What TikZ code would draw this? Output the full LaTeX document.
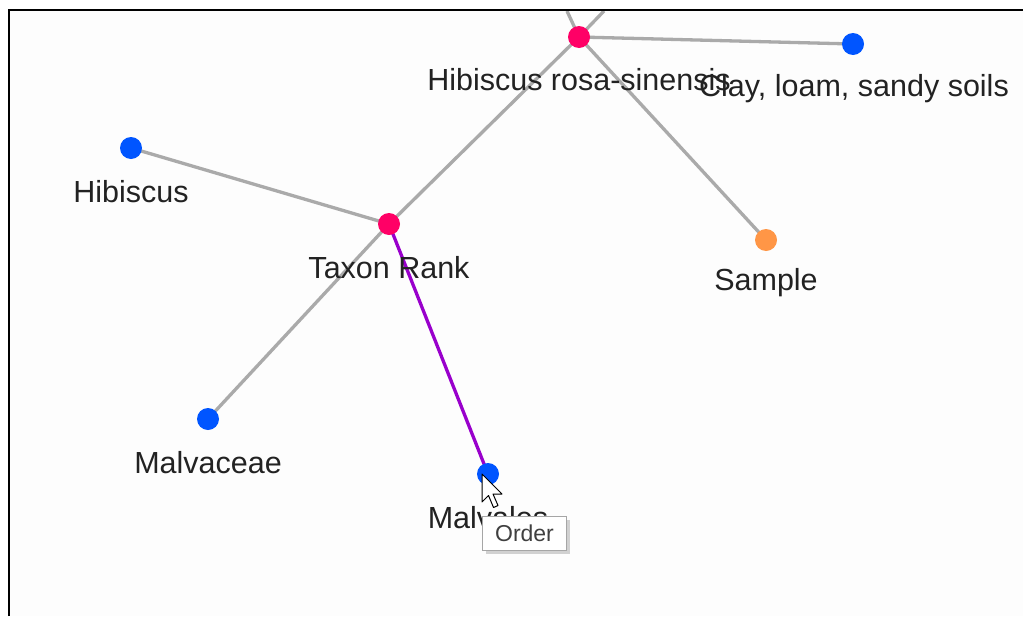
\documentclass[tikz,border=0pt]{standalone}
\usepackage{fontspec}
\setmainfont{Liberation Sans}
\usetikzlibrary{shadows}
\definecolor{pinkc}{RGB}{255,0,102}
\definecolor{bluec}{RGB}{0,85,255}
\definecolor{orangec}{RGB}{255,150,70}
\definecolor{edgec}{RGB}{170,170,170}
\definecolor{purplec}{RGB}{153,0,204}
\definecolor{textc}{RGB}{34,34,34}
\definecolor{bgc}{RGB}{253,253,253}
\pgfdeclarelayer{bgzero}
\pgfdeclarelayer{edges}
\pgfsetlayers{bgzero,edges,main}
\begin{document}
\begin{tikzpicture}[x=1pt,y=-1pt,
  dot/.style={circle,inner sep=0pt,minimum size=22pt},
  pinkdot/.style={dot,fill=pinkc},
  bluedot/.style={dot,fill=bluec},
  orangedot/.style={dot,fill=orangec},
  lab/.style={font=\fontsize{30.5}{33}\selectfont,text=textc,inner sep=0pt},
  link/.style={draw=edgec,line width=3.3pt},
  sel/.style={draw=purplec,line width=3.3pt},
  tip/.style={draw=gray!70,fill=white,line width=1pt,font=\fontsize{23}{25}\selectfont,text=black!75,minimum width=84pt,minimum height=34pt,inner sep=0pt,drop shadow={shadow xshift=3pt,shadow yshift=-3pt,opacity=0.35}}
]
\useasboundingbox (0,0) rectangle (1023,616);
\begin{pgfonlayer}{bgzero}
\fill[white] (0,0) rectangle (1023,616);
\fill[bgc] (9,10) rectangle (1023,616);
\end{pgfonlayer}

% nodes
\node[pinkdot] (hrs) at (579,37) {};
\node[bluedot] (clay) at (853,44) {};
\node[bluedot] (hib) at (131,148) {};
\node[pinkdot] (tax) at (389,224) {};
\node[orangedot] (samp) at (766,240) {};
\node[bluedot] (malvaceae) at (208,419) {};
\node[bluedot] (malvales) at (488,474) {};
\coordinate (offA) at (567,11);
\coordinate (offB) at (604,11);

% labels
\node[lab] (lhrs) at (579,80) {Hibiscus rosa-sinensis};
\node[lab] (lclay) at (854,89) {Clay, loam, sandy soils};
\node[lab] (lhib) at (131,192) {Hibiscus};
\node[lab] (ltax) at (389,268) {Taxon Rank};
\node[lab] (lsamp) at (766,283) {Sample};
\node[lab] (lmalvaceae) at (208,463) {Malvaceae};
\node[lab] (lmalvales) at (488,518) {Malvales};

% edges
\begin{pgfonlayer}{edges}
\draw[link] (hrs.center) -- (offA);
\draw[link] (hrs.center) -- (offB);
\draw[link] (hrs.center) -- (clay.center);
\draw[link] (hrs.center) -- (samp.center);
\draw[link] (hrs.center) -- (tax.center);
\draw[link] (hib.center) -- (tax.center);
\draw[link] (tax.center) -- (malvaceae.center);
\draw[sel] (tax.center) -- (malvales.center);
\end{pgfonlayer}

% border
\draw[line width=2pt,black] (9,616) -- (9,10) -- (1023,10);

% tooltip
\node[tip,anchor=north west] (tooltip) at (482,516) {Order};

% cursor
\filldraw[fill=white,draw=black,line width=1pt,line join=round]
  (482,474) -- ++(0,28) -- ++(6.5,-6.5) -- ++(5,12) -- ++(4.5,-2) -- ++(-5,-11.5) -- ++(9,0) -- cycle;
\end{tikzpicture}
\end{document}
